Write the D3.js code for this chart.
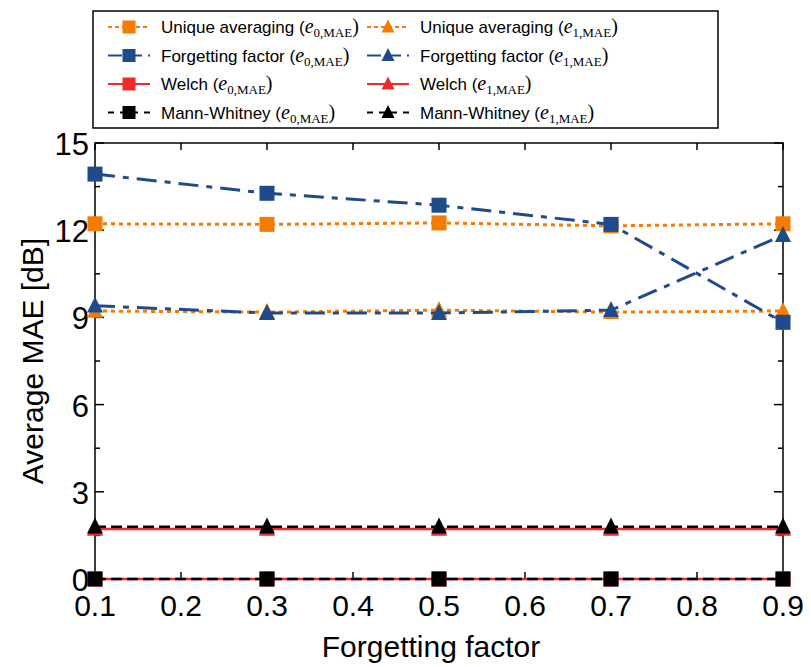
<!DOCTYPE html>
<html>
<head>
<meta charset="utf-8">
<script src="https://cdn.jsdelivr.net/npm/d3@7"></script>
<style>
  body { margin: 0; background: #fff; }
  svg { font-family: "Liberation Sans", Arial, sans-serif; }
</style>
</head>
<body>
<div id="chart"></div>
<script>
const factors = [0.1, 0.3, 0.5, 0.7, 0.9];
const uniqueE0 = [12.22, 12.2, 12.25, 12.15, 12.22];
const uniqueE1 = [9.22, 9.18, 9.25, 9.18, 9.22];
const forgetE0 = [13.93, 13.27, 12.86, 12.2, 8.83];
const forgetE1 = [9.4, 9.15, 9.15, 9.25, 11.83];
const welchE0 = [0, 0, 0, 0, 0];
const welchE1 = [1.72, 1.72, 1.72, 1.72, 1.72];
const mannE0 = [0, 0, 0, 0, 0];
const mannE1 = [1.8, 1.8, 1.8, 1.8, 1.8];
const xTicks = [0.1, 0.2, 0.3, 0.4, 0.5, 0.6, 0.7, 0.8, 0.9];
const yTicks = [0, 3, 6, 9, 12, 15];

const orange = "#f57c00";
const blue = "#1f4b8c";
const red = "#ee2b2b";

const series = [
  { name: "Unique averaging", err: "0", values: uniqueE0, color: orange, dash: "4,4", legDash: "4,3", marker: "square", width: 3 },
  { name: "Unique averaging", err: "1", values: uniqueE1, color: orange, dash: "4,4", legDash: "4,3", marker: "triangle", width: 3 },
  { name: "Forgetting factor", err: "0", values: forgetE0, color: blue, dash: "20,8,6,8", legDash: "14,6", marker: "square", width: 3 },
  { name: "Forgetting factor", err: "1", values: forgetE1, color: blue, dash: "20,8,6,8", legDash: "14,6", marker: "triangle", width: 3 },
  { name: "Welch", err: "0", values: welchE0, color: red, dash: null, legDash: null, marker: "square", width: 2.5 },
  { name: "Welch", err: "1", values: welchE1, color: red, dash: null, legDash: null, marker: "triangle", width: 2.5 },
  { name: "Mann-Whitney", err: "0", values: mannE0, color: "#000", dash: "11,5", legDash: "6,6", marker: "square", width: 2.5 },
  { name: "Mann-Whitney", err: "1", values: mannE1, color: "#000", dash: "11,5", legDash: "6,6", marker: "triangle", width: 2.5 }
];

const W = 811, H = 667;
const pLeft = 95, pRight = 783, pTop = 143, pBottom = 579;

const svg = d3.select("#chart").append("svg")
  .attr("width", W).attr("height", H);

const x = d3.scaleLinear().domain([0.1, 0.9]).range([pLeft, pRight]);
const y = d3.scaleLinear().domain([0, 15]).range([pBottom, pTop]);

// frame
svg.append("rect")
  .attr("x", pLeft).attr("y", pTop)
  .attr("width", pRight - pLeft).attr("height", pBottom - pTop)
  .attr("fill", "none").attr("stroke", "#000").attr("stroke-width", 1.5);

// ticks, pointing inward on all four sides
const yMinor = d3.range(0, 15.01, 1.5);
const ticks = svg.append("g").attr("stroke", "#000").attr("stroke-width", 1.5);
yMinor.forEach(v => {
  const len = (Math.round(v * 10) % 30 === 0) ? 9 : 5;
  ticks.append("line").attr("x1", pLeft).attr("x2", pLeft + len).attr("y1", y(v)).attr("y2", y(v));
  ticks.append("line").attr("x1", pRight).attr("x2", pRight - len).attr("y1", y(v)).attr("y2", y(v));
});
xTicks.forEach(v => {
  ticks.append("line").attr("x1", x(v)).attr("x2", x(v)).attr("y1", pBottom).attr("y2", pBottom - 7);
  ticks.append("line").attr("x1", x(v)).attr("x2", x(v)).attr("y1", pTop).attr("y2", pTop + 7);
});

svg.append("g").selectAll("text")
  .data(xTicks).join("text")
  .attr("x", d => x(d)).attr("y", 616)
  .attr("text-anchor", "middle")
  .style("font-size", "30px")
  .text(d => d3.format(".1f")(d));

svg.append("g").selectAll("text")
  .data(yTicks).join("text")
  .attr("x", pLeft - 6).attr("y", d => y(d) + 12)
  .attr("text-anchor", "end")
  .style("font-size", "31px")
  .text(d => d);

svg.append("text")
  .attr("x", (pLeft + pRight) / 2 - 8).attr("y", 657)
  .attr("text-anchor", "middle")
  .style("font-size", "30px")
  .text("Forgetting factor");

svg.append("text")
  .attr("transform", `translate(43,${(pTop + pBottom) / 2}) rotate(-90)`)
  .attr("text-anchor", "middle")
  .style("font-size", "30px")
  .text("Average MAE [dB]");

const line = d3.line().x((d, i) => x(factors[i])).y(d => y(d));

function drawMarker(g, type, cx, cy, color, s) {
  if (type === "square") {
    g.append("rect").attr("x", cx - s / 2).attr("y", cy - s / 2)
      .attr("width", s).attr("height", s).attr("fill", color);
  } else {
    const h = s * 0.95;
    g.append("path")
      .attr("d", `M${cx},${cy - h * 0.6}L${cx + s / 2},${cy + h * 0.45}L${cx - s / 2},${cy + h * 0.45}Z`)
      .attr("fill", color);
  }
}

const plot = svg.append("g");
series.forEach(s => {
  plot.append("path")
    .datum(s.values)
    .attr("d", line)
    .attr("fill", "none")
    .attr("stroke", s.color)
    .attr("stroke-width", s.width)
    .attr("stroke-dasharray", s.dash);
  s.values.forEach((v, i) => drawMarker(plot, s.marker, x(factors[i]), y(v), s.color, s.marker === "square" ? 15 : 16));
});

// legend
const lg = svg.append("g");
lg.append("rect")
  .attr("x", 93).attr("y", 11).attr("width", 625).attr("height", 117)
  .attr("fill", "#fff").attr("stroke", "#000").attr("stroke-width", 1.5);

series.forEach((s, i) => {
  const col = i % 2, row = Math.floor(i / 2);
  const x0 = col === 0 ? 108 : 367;
  const cy = 27 + row * 28.5;
  lg.append("line")
    .attr("x1", x0).attr("x2", x0 + 42).attr("y1", cy).attr("y2", cy)
    .attr("stroke", s.color).attr("stroke-width", 2)
    .attr("stroke-dasharray", s.legDash);
  drawMarker(lg, s.marker, x0 + 21, cy, s.color, 13);
  const t = lg.append("text")
    .attr("x", x0 + 53).attr("y", cy + 6)
    .style("font-size", "17px");
  t.append("tspan").text(s.name + " (");
  t.append("tspan").style("font-family", "'Liberation Serif', serif").style("font-style", "italic")
    .style("font-size", "20px").text("e");
  t.append("tspan").style("font-family", "'Liberation Serif', serif").style("font-size", "13px")
    .attr("dy", 4).text(s.err + ",MAE");
  t.append("tspan").style("font-family", "'Liberation Serif', serif").style("font-size", "20px")
    .attr("dy", -4).text(")");
});
</script>
</body>
</html>
